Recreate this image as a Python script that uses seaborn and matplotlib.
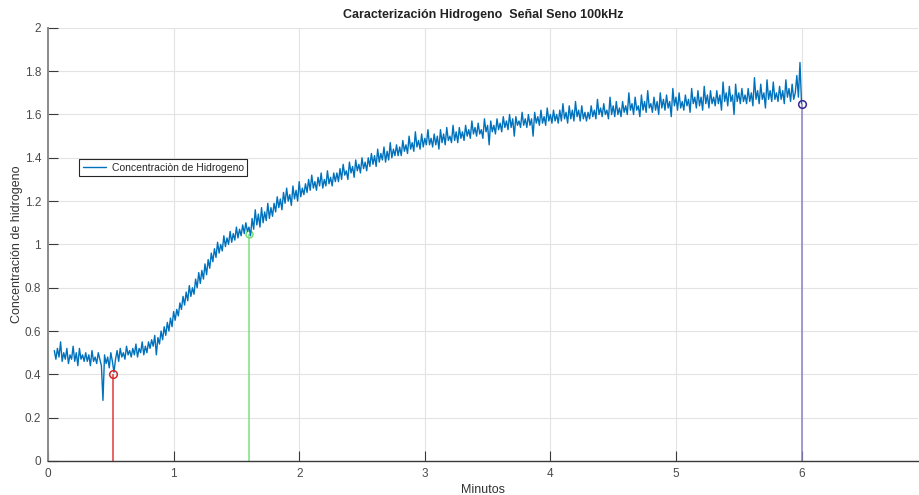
import numpy as np
import pandas as pd
import matplotlib
matplotlib.use("Agg")
import matplotlib.pyplot as plt
import seaborn as sns

# Hydrogen concentration readings, one sample every 0.0125 min starting at 0.05 min
t_start = 0.05
t_step = 0.0125
concentracion = [
    0.51, 0.47, 0.52, 0.48, 0.55, 0.46, 0.50, 0.47, 0.52, 0.45, 0.49, 0.47, 0.53, 0.46, 0.50, 0.44, 0.52, 0.47, 0.49, 0.46,
    0.50, 0.46, 0.49, 0.44, 0.51, 0.46, 0.48, 0.45, 0.50, 0.47, 0.44, 0.28, 0.49, 0.45, 0.48, 0.43, 0.50, 0.46, 0.41, 0.47,
    0.51, 0.46, 0.52, 0.48, 0.50, 0.47, 0.53, 0.49, 0.51, 0.48, 0.52, 0.49, 0.54, 0.48, 0.52, 0.50, 0.55, 0.49, 0.53, 0.50,
    0.55, 0.52, 0.56, 0.53, 0.58, 0.49, 0.57, 0.54, 0.60, 0.56, 0.62, 0.58, 0.64, 0.60, 0.66, 0.62, 0.69, 0.65, 0.70, 0.67,
    0.73, 0.70, 0.76, 0.72, 0.78, 0.74, 0.81, 0.76, 0.80, 0.77, 0.84, 0.80, 0.87, 0.82, 0.88, 0.84, 0.91, 0.86, 0.93, 0.89,
    0.96, 0.92, 0.98, 0.94, 1.01, 0.96, 1.00, 0.97, 1.04, 0.99, 1.03, 1.00, 1.06, 1.01, 1.05, 1.02, 1.08, 1.03, 1.07, 1.04,
    1.09, 1.05, 1.10, 1.06, 1.08, 1.04, 1.12, 1.07, 1.16, 1.09, 1.14, 1.08, 1.17, 1.10, 1.15, 1.11, 1.19, 1.12, 1.17, 1.13,
    1.19, 1.15, 1.22, 1.17, 1.21, 1.16, 1.24, 1.19, 1.26, 1.20, 1.23, 1.18, 1.27, 1.21, 1.25, 1.20, 1.29, 1.22, 1.26, 1.23,
    1.28, 1.24, 1.30, 1.25, 1.32, 1.26, 1.29, 1.25, 1.31, 1.27, 1.33, 1.26, 1.30, 1.27, 1.34, 1.28, 1.31, 1.27, 1.33, 1.29,
    1.33, 1.29, 1.35, 1.30, 1.37, 1.32, 1.34, 1.30, 1.38, 1.33, 1.36, 1.31, 1.39, 1.34, 1.37, 1.33, 1.40, 1.35, 1.38, 1.34,
    1.40, 1.36, 1.42, 1.37, 1.41, 1.36, 1.44, 1.38, 1.42, 1.39, 1.45, 1.38, 1.43, 1.39, 1.47, 1.40, 1.44, 1.41, 1.46, 1.41,
    1.45, 1.41, 1.48, 1.43, 1.46, 1.42, 1.50, 1.44, 1.47, 1.43, 1.52, 1.45, 1.48, 1.44, 1.51, 1.45, 1.49, 1.46, 1.53, 1.46,
    1.49, 1.45, 1.51, 1.46, 1.50, 1.44, 1.53, 1.47, 1.51, 1.46, 1.54, 1.48, 1.50, 1.47, 1.55, 1.48, 1.52, 1.47, 1.54, 1.49,
    1.52, 1.48, 1.55, 1.50, 1.53, 1.49, 1.57, 1.51, 1.54, 1.50, 1.56, 1.51, 1.53, 1.49, 1.58, 1.52, 1.55, 1.46, 1.57, 1.52,
    1.55, 1.51, 1.58, 1.53, 1.56, 1.52, 1.59, 1.54, 1.57, 1.53, 1.60, 1.54, 1.58, 1.50, 1.59, 1.55, 1.57, 1.54, 1.61, 1.55,
    1.58, 1.54, 1.60, 1.55, 1.58, 1.50, 1.61, 1.56, 1.59, 1.55, 1.62, 1.56, 1.59, 1.55, 1.63, 1.57, 1.60, 1.56, 1.62, 1.57,
    1.60, 1.56, 1.62, 1.57, 1.65, 1.58, 1.61, 1.56, 1.64, 1.58, 1.62, 1.57, 1.66, 1.59, 1.62, 1.57, 1.64, 1.58, 1.61, 1.57,
    1.61, 1.58, 1.64, 1.59, 1.62, 1.58, 1.67, 1.60, 1.63, 1.59, 1.65, 1.60, 1.62, 1.58, 1.68, 1.60, 1.64, 1.59, 1.66, 1.60,
    1.63, 1.59, 1.66, 1.61, 1.64, 1.60, 1.70, 1.62, 1.65, 1.60, 1.68, 1.62, 1.64, 1.59, 1.69, 1.62, 1.66, 1.61, 1.71, 1.63,
    1.65, 1.61, 1.68, 1.62, 1.66, 1.60, 1.70, 1.63, 1.67, 1.62, 1.69, 1.63, 1.66, 1.59, 1.72, 1.64, 1.68, 1.62, 1.70, 1.63,
    1.66, 1.62, 1.69, 1.64, 1.67, 1.61, 1.72, 1.65, 1.68, 1.63, 1.71, 1.64, 1.68, 1.62, 1.73, 1.65, 1.69, 1.63, 1.71, 1.65,
    1.68, 1.64, 1.71, 1.65, 1.69, 1.62, 1.75, 1.66, 1.70, 1.64, 1.73, 1.66, 1.69, 1.60, 1.74, 1.66, 1.70, 1.65, 1.72, 1.66,
    1.69, 1.65, 1.72, 1.66, 1.70, 1.64, 1.77, 1.67, 1.71, 1.65, 1.74, 1.67, 1.70, 1.63, 1.76, 1.67, 1.71, 1.66, 1.75, 1.67,
    1.70, 1.66, 1.73, 1.67, 1.71, 1.65, 1.76, 1.68, 1.72, 1.66, 1.74, 1.67, 1.70, 1.78, 1.68, 1.84, 1.65,
]

# Reference points marked with stems
puntos_x = [0.52, 1.60, 6.00]
puntos_y = [0.40, 1.05, 1.65]
puntos_linea = ["#e03a3a", "#7ee07e", "#8a84c4"]
puntos_marca = ["#d42a2a", "#6fd96f", "#3b2496"]

x_ticks = [0, 1, 2, 3, 4, 5, 6]
y_ticks = [0, 0.2, 0.4, 0.6, 0.8, 1, 1.2, 1.4, 1.6, 1.8, 2]
y_tick_labels = ["0", "0.2", "0.4", "0.6", "0.8", "1", "1.2", "1.4", "1.6", "1.8", "2"]

minutos = t_start + t_step * np.arange(len(concentracion))
df = pd.DataFrame({"Minutos": minutos, "Concentracion": concentracion})

sns.set_theme(style="whitegrid")
plt.rcParams["font.family"] = ["Liberation Sans", "DejaVu Sans"]

fig = plt.figure(figsize=(9.2, 4.95), dpi=100)
ax = fig.add_axes([0.0522, 0.0687, 0.946, 0.875])
ax.set_facecolor("white")

# stems from the x axis up to each marked point
for px, py, lc in zip(puntos_x, puntos_y, puntos_linea):
    ax.vlines(px, 0, py, colors=lc, linewidth=1.1, zorder=2)

# green marker sits underneath the signal
ax.plot(puntos_x[1], puntos_y[1], "o", ms=5, mfc="none", mec=puntos_marca[1], mew=1.0, zorder=2)

sns.lineplot(data=df, x="Minutos", y="Concentracion", ax=ax, color="#0072BD",
             linewidth=1.0, estimator=None, sort=False,
             label="Concentraciòn de Hidrogeno", zorder=3)

for i in (0, 2):
    ax.plot(puntos_x[i], puntos_y[i], "o", ms=5.5, mfc="none", mec=puntos_marca[i],
            mew=1.1, zorder=4)

ax.set_xlim(0, 6.93)
ax.set_ylim(0, 2)
ax.set_xticks(x_ticks)
ax.set_xticklabels([str(v) for v in x_ticks])
ax.set_yticks(y_ticks)
ax.set_yticklabels(y_tick_labels)

ax.grid(True, color="#e3e3e3", linewidth=0.8)
ax.set_axisbelow(True)
for side in ("top", "right"):
    ax.spines[side].set_visible(False)
ax.spines["left"].set_color("#8a8a8a")
ax.spines["left"].set_linewidth(1.4)
ax.spines["bottom"].set_color("#3a3a3a")
ax.spines["bottom"].set_linewidth(1.0)

ax.tick_params(axis="both", direction="in", length=7, width=0.8, colors="#3a3a3a",
               labelsize=8.5, labelcolor="#4a4a4a", pad=5)
ax.tick_params(axis="y", left=True)
ax.tick_params(axis="x", bottom=True)

ax.set_title("Caracterización Hidrogeno  Señal Seno 100kHz", fontsize=9,
             fontweight="bold", color="#222222", pad=7)
ax.set_xlabel("Minutos", fontsize=9, color="#333333", labelpad=3)
ax.set_ylabel("Concentración de hidrogeno", fontsize=9, color="#333333", labelpad=1)

leg = ax.legend(loc="upper left", bbox_to_anchor=(0.0356, 0.697), borderaxespad=0,
                fontsize=7.5, frameon=True, fancybox=False, handlelength=2.2,
                borderpad=0.35, handletextpad=0.6)
leg.get_frame().set_edgecolor("#262626")
leg.get_frame().set_linewidth(0.8)
leg.get_frame().set_facecolor("white")
leg.get_frame().set_alpha(1)

fig.savefig("out.png", dpi=100)
